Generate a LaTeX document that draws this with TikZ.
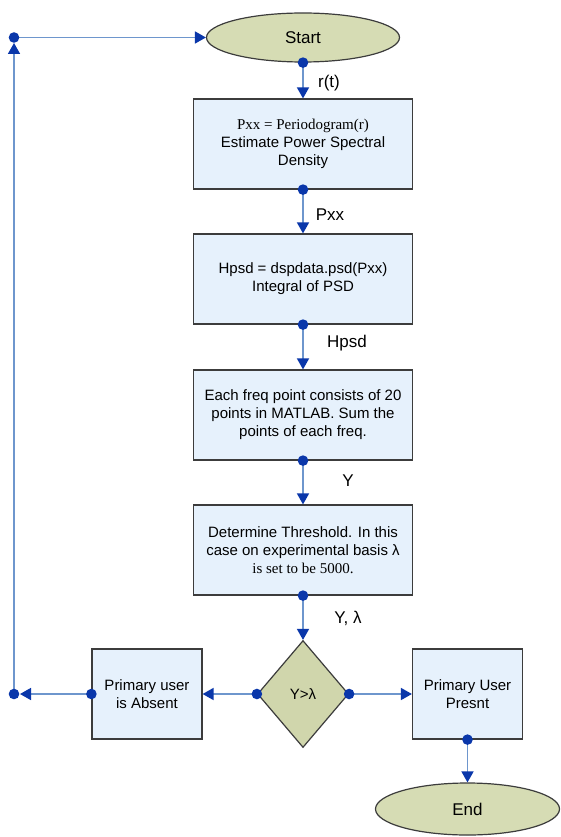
\documentclass[tikz,border=0pt]{standalone}
\usepackage{fontspec}
\setmainfont{Liberation Sans}
\newfontfamily\serifx{Liberation Serif}
\usetikzlibrary{shapes.geometric,arrows.meta}
\definecolor{boxfill}{RGB}{230,241,252}
\definecolor{boxedge}{RGB}{60,60,60}
\definecolor{termfill}{RGB}{214,220,180}
\definecolor{decfill}{RGB}{208,214,172}
\definecolor{linecol}{RGB}{110,150,205}
\definecolor{tipcol}{RGB}{10,55,170}
\begin{document}
\begin{tikzpicture}[x=1pt,y=-1pt,
  box/.style={draw=boxedge, fill=boxfill, line width=1.2pt, minimum width=219pt,
    minimum height=90pt, inner sep=0pt, align=center, font=\fontsize{15}{18}\selectfont},
  sidebox/.style={box, minimum width=110pt},
  term/.style={ellipse, draw=boxedge, fill=termfill, line width=1.2pt, inner sep=0pt,
    font=\fontsize{17}{20}\selectfont},
  decis/.style={diamond, draw=boxedge, fill=decfill, line width=1.2pt, inner sep=0pt,
    minimum width=91pt, minimum height=107pt, font=\fontsize{15}{18}\selectfont},
  conn/.style={draw=linecol, line width=1.6pt,
    -{Triangle[length=11pt,width=12pt,color=tipcol,fill=tipcol]}},
  lab/.style={font=\fontsize{17}{20}\selectfont, inner sep=0pt},
  dotr/.style={fill=tipcol}
]
\fill[white] (0,0) rectangle (560,837);
\useasboundingbox (0,0) rectangle (560,837);

\node[term, minimum width=193pt, minimum height=49pt] (start) at (303,37.5) {Start};
\node[box] (b1) at (303,144) {{\serifx Pxx = Periodogram(r)}\\Estimate Power Spectral\\Density};
\node[box] (b2) at (303,279) {Hpsd = dspdata.psd(Pxx)\\Integral of PSD};
\node[box] (b3) at (303,415) {Each freq point consists of 20\\points in MATLAB. Sum the\\points of each freq.};
\node[box] (b4) at (303,550) {Determine Threshold. In this\\case on experimental basis λ\\{\serifx is set to be 5000.}};
\node[decis] (dec) at (303,694) {Y>λ};
\node[sidebox] (lb) at (147,694) {Primary user\\is Absent};
\node[sidebox] (rb) at (467.5,694) {Primary User\\Presnt};
\node[term, minimum width=184pt, minimum height=52pt] (end) at (467.5,809) {End};

\coordinate (c1) at (14,694);
\coordinate (c2) at (14,37.5);

\draw[conn] (start.south) -- (b1.north);
\draw[conn] (b1.south) -- (b2.north);
\draw[conn] (b2.south) -- (b3.north);
\draw[conn] (b3.south) -- (b4.north);
\draw[conn] (b4.south) -- (dec.north);
\draw[conn] (dec.west) -- (lb.east);
\draw[conn] (dec.east) -- (rb.west);
\draw[conn] (rb.south) -- (end.north);
\draw[conn, shorten >=6pt] (lb.west) -- (c1);
\draw[conn, shorten >=5.5pt] (c1) -- (c2);
\draw[conn] (c2) -- (start.west);

\foreach \p in {start.south, b1.south, b2.south, b3.south, b4.south,
  dec.west, dec.east, lb.west, rb.south, c1, c2}
  \fill[dotr] (\p) circle[radius=5.3pt];

\node[lab] (l1) at (329,83) {r(t)};
\node[lab] (l2) at (330,215) {Pxx};
\node[lab] (l3) at (347,343) {Hpsd};
\node[lab] (l4) at (348,481) {Y};
\node[lab] (l5) at (348,618) {Y, λ};
\end{tikzpicture}
\end{document}
